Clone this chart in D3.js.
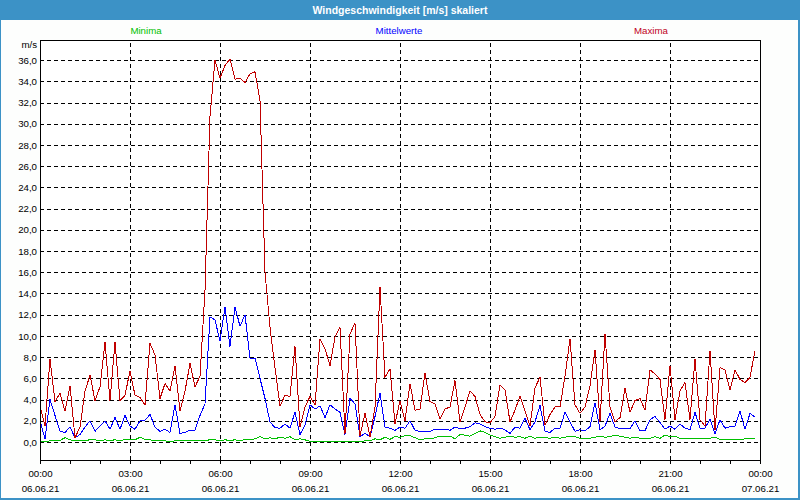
<!DOCTYPE html>
<html>
<head>
<meta charset="utf-8">
<script src="https://cdn.jsdelivr.net/npm/d3@7/dist/d3.min.js"></script>
<style>
  html, body { margin: 0; padding: 0; background: #fff; }
  svg { display: block; }
  text { font-family: "Liberation Sans", Arial, sans-serif; }
</style>
</head>
<body>
<svg id="chart" width="800" height="500"></svg>
<script>
// ---------- data ----------
const chartTitle = "Windgeschwindigkeit [m/s] skaliert";
const unitLabel = "m/s";
const seriesNames = ["Minima", "Mittelwerte", "Maxima"];
const startTime = "2021-06-06T00:00:00";
const endTime = "2021-06-07T00:00:00";
const stepMinutes = 10;

const minima = [
  0.1,0.05,0.1,0.1,0.15,0.4,0.2,0.1,0.15,0.15,0.2,0.2,0.15,0.2,0.15,0.2,0.1,0.25,0.25,0.2,
  0.45,0.25,0.2,0.1,0.1,0.1,0.05,0.1,0.1,0.1,0.1,0.1,0.15,0.15,0.2,0.2,0.1,0.2,0.15,0.2,
  0.1,0.25,0.2,0.3,0.5,0.3,0.4,0.3,0.45,0.35,0.5,0.2,0.3,0.2,0.05,0.05,0.05,0.05,0.05,0.05,
  0.05,0.05,0.05,0.05,0.05,0.1,0.1,0.3,0.2,0.45,0.25,0.5,0.45,0.6,0.6,0.4,0.2,0.3,0.3,0.4,
  0.55,0.55,0.55,0.3,0.7,0.65,0.55,0.8,1.05,0.9,0.65,0.5,0.35,0.45,0.55,0.45,0.5,0.35,0.55,0.35,
  0.45,0.4,0.35,0.45,0.35,0.45,0.55,0.5,0.35,0.35,0.35,0.45,0.55,0.45,0.5,0.65,0.55,0.45,0.35,0.45,
  0.35,0.35,0.35,0.5,0.35,0.65,0.5,0.55,0.35,0.3,0.3,0.3,0.3,0.35,0.35,0.45,0.25,0.2,0.2,0.2,
  0.2,0.3,0.3,0.3
];
const mittelwerte = [
  2.0,0.3,4.0,2.5,1.0,0.9,1.4,0.4,0.7,1.4,2.0,1.0,1.5,2.0,1.2,2.3,1.2,2.5,1.5,1.2,
  2.0,2.05,2.6,1.4,1.0,1.2,0.9,3.5,0.8,0.9,1.1,1.1,2.5,3.6,11.8,11.5,9.5,12.75,9.0,12.75,
  10.9,12.0,7.9,7.9,6.0,4.1,1.9,1.35,1.3,1.7,1.3,2.8,0.7,1.6,3.5,3.1,3.4,2.3,3.5,3.1,
  2.8,0.7,4.1,3.6,0.5,0.8,0.5,2.4,4.6,1.4,1.3,1.1,1.4,1.3,2.0,1.1,1.0,1.0,1.0,1.2,
  1.2,1.2,1.1,1.4,1.25,1.3,1.45,1.8,1.7,1.45,1.3,1.2,1.3,1.15,0.8,1.4,1.3,2.25,1.15,1.9,
  3.45,1.0,0.9,1.3,1.3,2.8,1.9,1.0,1.15,1.05,1.45,3.7,1.15,1.5,2.7,1.4,1.25,1.25,1.25,2.0,
  1.05,1.05,2.1,2.4,1.85,1.2,1.5,1.2,1.7,1.3,1.15,2.8,1.3,1.3,2.15,0.8,2.1,1.3,1.45,1.5,
  2.9,1.2,2.7,2.35
];
const maxima = [
  3.4,1.5,7.8,3.8,4.6,2.9,5.3,0.4,1.4,4.8,6.3,3.9,5.2,9.4,3.9,9.4,3.9,4.4,6.7,4.4,
  4.2,3.5,9.3,8.2,4.1,5.5,4.8,7.2,2.9,4.8,7.4,5.2,6.2,14.3,30.7,36.0,34.3,35.5,36.1,34.2,
  34.3,33.9,34.7,34.9,32.2,16.0,10.8,7.0,3.4,4.4,4.3,9.0,1.4,3.3,4.3,3.5,9.7,8.8,7.2,9.9,
  10.8,0.8,10.2,11.2,0.6,2.7,0.5,3.3,14.6,6.1,6.9,1.7,3.9,2.0,5.5,3.0,3.1,6.5,3.8,3.6,
  2.2,3.1,3.3,5.8,1.9,3.3,4.8,4.3,2.6,1.9,1.8,2.4,5.4,4.9,1.9,3.0,4.3,2.9,1.5,5.1,
  6.1,1.6,2.6,3.3,3.3,6.2,9.7,3.5,2.7,3.3,5.3,8.7,1.9,10.2,3.3,1.9,2.3,5.1,2.8,3.9,
  4.1,3.0,6.8,6.4,5.9,2.1,7.2,2.1,4.8,5.6,2.1,7.8,2.1,1.5,8.6,1.1,7.0,6.8,4.9,6.8,
  5.9,5.6,6.1,8.6
];
const yTickValues = [0,2,4,6,8,10,12,14,16,18,20,22,24,26,28,30,32,34,36];
const timeLabels = ["00:00","03:00","06:00","09:00","12:00","15:00","18:00","21:00","00:00"];
const dateLabels = ["06.06.21","06.06.21","06.06.21","06.06.21","06.06.21","06.06.21","06.06.21","06.06.21","07.06.21"];

// ---------- chart ----------
const W = 800, H = 500;
const plot = { left: 40, right: 760, top: 40, bottom: 460 };
const colors = { Minima: "#00c000", Mittelwerte: "#0000ff", Maxima: "#c00000" };
const legendColors = { Minima: "#00c000", Mittelwerte: "#0000ff", Maxima: "#c0001c" };
const frameBlue = "#3c92c6";
const fontFam = "\"Liberation Sans\", Arial, sans-serif";

const svg = d3.select("#chart");

// window frame
svg.append("rect").attr("x", 0).attr("y", 0).attr("width", W).attr("height", H).attr("fill", frameBlue);
svg.append("rect").attr("x", 1).attr("y", 20).attr("width", W - 3).attr("height", H - 22).attr("fill", "#fdfefd");
svg.append("text").attr("x", W / 2).attr("y", 14).attr("text-anchor", "middle")
  .attr("fill", "#ffffff").attr("font-size", "10.5px").attr("font-weight", "bold").text(chartTitle);

const t0 = new Date(startTime), t1 = new Date(endTime);
const times = maxima.map((_, i) => new Date(t0.getTime() + i * stepMinutes * 60000));

const x = d3.scaleTime().domain([t0, t1]).range([plot.left, plot.right]);
const y = d3.scaleLinear().domain([-1.7, 37.9]).range([plot.bottom, plot.top]);

// plot background
svg.append("rect").attr("x", plot.left).attr("y", plot.top)
  .attr("width", plot.right - plot.left).attr("height", plot.bottom - plot.top).attr("fill", "#ffffff");

// horizontal grid
const gy = svg.append("g").attr("transform", `translate(${plot.left},0)`)
  .call(d3.axisLeft(y).tickValues(yTickValues).tickSize(-(plot.right - plot.left)).tickFormat(""));
gy.select(".domain").remove();
gy.selectAll(".tick line").attr("stroke", "#000").attr("stroke-dasharray", "4,3").attr("shape-rendering", "crispEdges");

// vertical grid
const gridTimes = timeLabels.map((_, i) => new Date(t0.getTime() + i * 3 * 3600000)).slice(1, -1);
const gx = svg.append("g").attr("transform", `translate(0,${plot.bottom})`)
  .call(d3.axisBottom(x).tickValues(gridTimes).tickSize(-(plot.bottom - plot.top)).tickFormat(""));
gx.select(".domain").remove();
gx.selectAll(".tick line").attr("stroke", "#000").attr("stroke-dasharray", "4,3").attr("shape-rendering", "crispEdges");

// y labels
const yl = svg.append("g").attr("transform", `translate(${plot.left},0)`)
  .call(d3.axisLeft(y).tickValues(yTickValues).tickSize(0).tickPadding(3)
    .tickFormat(d => d.toFixed(1).replace(".", ",")));
yl.select(".domain").remove();
yl.selectAll("text").attr("font-family", fontFam).attr("font-size", "9.7px").attr("fill", "#000");

svg.append("text").attr("x", 37).attr("y", 48).attr("text-anchor", "end")
  .attr("font-size", "9.7px").attr("fill", "#000").text(unitLabel);

// hourly minor ticks
const hourTicks = d3.timeHour.every(1).range(t0, new Date(t1.getTime() + 1));
const mt = svg.append("g").attr("transform", `translate(0,${plot.bottom})`)
  .call(d3.axisBottom(x).tickValues(hourTicks).tickSize(4).tickFormat(""));
mt.select(".domain").remove();
mt.selectAll(".tick line").attr("stroke", "#000").attr("shape-rendering", "crispEdges");

// x labels (two lines)
const labelTimes = timeLabels.map((_, i) => new Date(t0.getTime() + i * 3 * 3600000));
const xl = svg.append("g").attr("transform", `translate(0,${plot.bottom})`)
  .call(d3.axisBottom(x).tickValues(labelTimes).tickSize(0).tickFormat(""));
xl.select(".domain").remove();
xl.selectAll(".tick").each(function(d, i) {
  const g = d3.select(this);
  g.append("text").attr("y", 17).attr("text-anchor", "middle").attr("fill", "#000")
    .attr("font-size", "9.7px").attr("font-family", fontFam).text(timeLabels[i]);
  g.append("text").attr("y", 32).attr("text-anchor", "middle").attr("fill", "#000")
    .attr("font-size", "9.7px").attr("font-family", fontFam).text(dateLabels[i]);
});

// series lines
const line = d3.line().x((d, i) => x(times[i])).y(d => y(d));
const seriesData = { Minima: minima, Mittelwerte: mittelwerte, Maxima: maxima };
["Minima", "Mittelwerte", "Maxima"].forEach(name => {
  svg.append("path").datum(seriesData[name]).attr("d", line)
    .attr("fill", "none").attr("stroke", colors[name]).attr("stroke-width", 1)
    .attr("stroke-linejoin", "miter").attr("shape-rendering", "crispEdges");
});

// frame box
svg.append("rect").attr("x", plot.left + 0.5).attr("y", plot.top + 0.5)
  .attr("width", plot.right - plot.left).attr("height", plot.bottom - plot.top)
  .attr("fill", "none").attr("stroke", "#000").attr("stroke-width", 1);

// legend
const legendX = { Minima: 146, Mittelwerte: 399, Maxima: 651 };
seriesNames.forEach(name => {
  svg.append("text").attr("x", legendX[name]).attr("y", 34).attr("text-anchor", "middle")
    .attr("font-size", "9.7px").attr("fill", legendColors[name]).text(name);
});
</script>
</body>
</html>
